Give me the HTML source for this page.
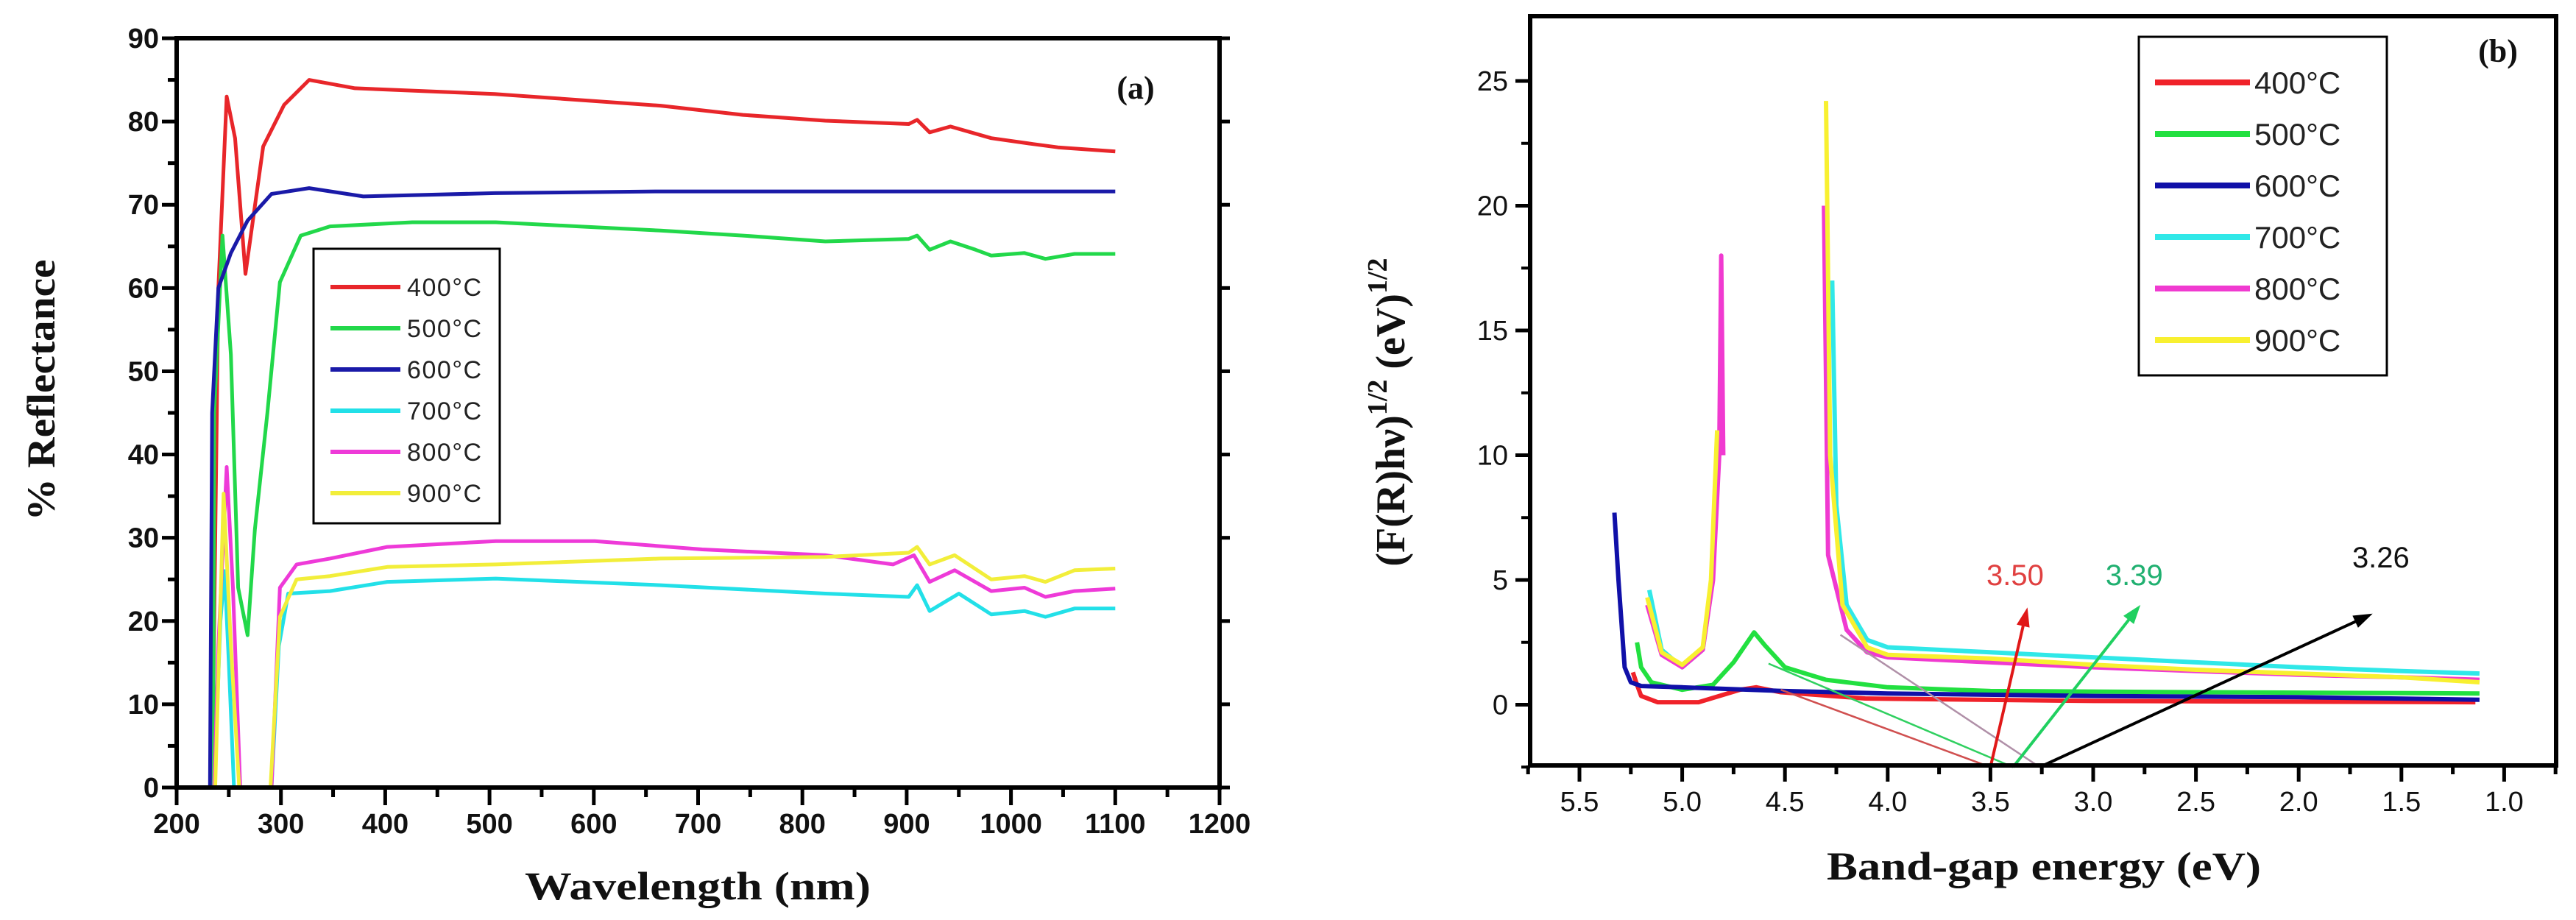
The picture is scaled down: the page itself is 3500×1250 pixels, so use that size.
<!DOCTYPE html>
<html><head><meta charset="utf-8"><style>
html,body{margin:0;padding:0;background:#fff;}
svg{display:block;}
text{font-family:"Liberation Sans",sans-serif;}
.tl{font-size:38px;font-weight:bold;fill:#111;}
.tlb{font-size:38px;fill:#111;}
.ttl{font-family:"Liberation Serif",serif;font-weight:bold;fill:#111;}
</style></head><body>
<svg id="fig" width="3500" height="1250" viewBox="0 0 3500 1250" xmlns="http://www.w3.org/2000/svg">
<g id="ga"></g>
<g id="gb"></g>
</svg>
<script>
// ---------- Chart (a) data ----------
const aLabels = ["400°C","500°C","600°C","700°C","800°C","900°C"];
const aColors = ["#e8262a","#22d84a","#1a1aa8","#22e0e8","#ee3ad8","#f2ee3a"];
const aXTicks = [200,300,400,500,600,700,800,900,1000,1100,1200];
const aYTicks = [0,10,20,30,40,50,60,70,80,90];
const a400 = [[234,0],[240,60],[248,83],[256,78],[266,61.7],[283,77],[303,82],[327,85],[371,84],[505,83.3],[664,81.9],[743,80.8],[822,80.1],[902,79.7],[910,80.2],[922,78.7],[942,79.4],[981,78],[1021,77.3],[1045,76.9],[1100,76.4]];
const a500 = [[235,0],[236,45],[244,66.3],[252,52],[259,24],[268,18.3],[275,31],[287,45],[299,60.7],[319,66.3],[347,67.4],[426,67.9],[506,67.9],[585,67.4],[664,66.9],[743,66.3],[822,65.6],[902,65.9],[910,66.3],[922,64.6],[942,65.6],[966,64.6],[981,63.9],[1013,64.2],[1033,63.5],[1061,64.1],[1100,64.1]];
const a600 = [[232,0],[234,45],[240,60],[252,64.2],[268,68.1],[291,71.3],[327,72],[379,71],[505,71.4],[664,71.6],[1100,71.6]];
const a700 = [[236,0],[242,20],[246,26],[250,15],[255,0],null,[291,0],[298,17],[307,23.3],[347,23.6],[402,24.7],[506,25.1],[664,24.3],[822,23.3],[902,22.9],[910,24.3],[922,21.2],[950,23.3],[981,20.8],[1013,21.2],[1033,20.5],[1061,21.5],[1100,21.5]];
const a800 = [[236,0],[240,17],[248,38.5],[254,24],[261,0],null,[291,0],[299,24],[315,26.8],[347,27.5],[402,28.9],[506,29.6],[601,29.6],[704,28.6],[822,27.9],[887,26.8],[907,27.9],[922,24.7],[946,26.1],[981,23.6],[1013,24],[1033,22.9],[1061,23.6],[1100,23.9]];
const a900 = [[237,0],[245,35.3],[252,17],[260,0],null,[290,0],[299,20.5],[315,25],[347,25.4],[402,26.5],[506,26.8],[664,27.5],[822,27.7],[902,28.2],[910,28.9],[922,26.8],[946,27.9],[981,25],[1013,25.4],[1033,24.7],[1061,26.1],[1100,26.3]];
const aSeries = [a400,a500,a600,a700,a800,a900];

// ---------- Chart (b) data ----------
const bLabels = ["400°C","500°C","600°C","700°C","800°C","900°C"];
const bColors = ["#f0222a","#22e040","#1010a8","#30e8e8","#f03ad0","#f8f030"];
const bXTicks = [5.5,5.0,4.5,4.0,3.5,3.0,2.5,2.0,1.5,1.0];
const bYTicks = [0,5,10,15,20,25];
const b400 = [[5.24,1.3],[5.22,0.8],[5.2,0.35],[5.12,0.1],[4.92,0.1],[4.72,0.6],[4.64,0.7],[4.52,0.5],[4.11,0.25],[3.0,0.15],[1.14,0.1]];
const b500 = [[5.22,2.5],[5.2,1.5],[5.15,0.9],[5.0,0.6],[4.85,0.8],[4.75,1.7],[4.65,2.9],[4.6,2.4],[4.5,1.5],[4.3,1.0],[4.0,0.7],[3.5,0.55],[2.5,0.5],[1.12,0.45]];
const b600 = [[5.33,7.7],[5.31,5],[5.28,1.5],[5.25,0.9],[5.2,0.75],[5.0,0.7],[4.5,0.55],[4.0,0.45],[3.0,0.35],[2.0,0.3],[1.12,0.2]];
const b700 = [[5.16,4.6],[5.1,2.2],[5.0,1.5],[4.9,2.2],[4.86,4.5],[4.84,8],null,[4.27,17],[4.25,8],[4.2,4],[4.1,2.6],[4.0,2.3],[3.5,2.1],[3.0,1.9],[2.5,1.7],[2.0,1.5],[1.5,1.35],[1.12,1.25]];
const b800 = [[5.17,4],[5.1,2],[5.0,1.5],[4.9,2.2],[4.85,5],[4.82,10],[4.81,18],[4.8,10],null,[4.31,20],[4.29,6],[4.2,3],[4.1,2.1],[4.0,1.9],[3.5,1.7],[3.0,1.5],[2.5,1.35],[2.0,1.2],[1.5,1.1],[1.12,1.0]];
const b900 = [[5.17,4.3],[5.1,2.1],[5.0,1.6],[4.9,2.3],[4.86,5],[4.83,11],null,[4.3,24.2],[4.28,10],[4.22,4],[4.1,2.3],[4.0,2.0],[3.5,1.85],[3.0,1.6],[2.5,1.4],[2.0,1.25],[1.5,1.1],[1.12,0.9]];
const bSeries = [b400,b500,b600,b700,b800,b900];
const bTangents = [[[4.52,0.6],[3.50,-2.5]],[[4.58,1.65],[3.39,-2.5]],[[4.23,2.8],[3.26,-2.5]]];
const bTangentColors = ["#d05050","#30d060","#b090a8"];
const bArrows = [[[3.50,-2.5],[3.32,3.9]],[[3.39,-2.5],[2.77,4.0]],[[3.26,-2.5],[1.64,3.65]]];
const bArrowColors = ["#e01818","#20d060","#000000"];
const bGapLabels = ["3.50","3.39","3.26"];
const bGapLabelPos = [[3.38,4.8],[2.80,4.8],[1.60,5.5]];

const NS="http://www.w3.org/2000/svg";
function mk(parent,tag,attrs,txt){const e=document.createElementNS(NS,tag);for(const k in attrs)e.setAttribute(k,attrs[k]);if(txt!==undefined)e.textContent=txt;parent.appendChild(e);return e;}
function pathFrom(pts,X,Y){let d="",pen=false;for(const p of pts){if(!p){pen=false;continue;}d+=(pen?"L":"M")+X(p[0]).toFixed(1)+","+Y(p[1]).toFixed(1);pen=true;}return d;}

// ---------- draw (a) ----------
const ga=document.getElementById('ga');
const aL=240,aR=1657,aT=52,aB=1070;
const ax=v=>aL+(v-200)/1000*(aR-aL);
const ay=v=>aB-(v/90)*(aB-aT);
aSeries.forEach((s,i)=>{
  const p=mk(ga,'path',{d:pathFrom(s,ax,ay),fill:'none',stroke:aColors[i],'stroke-width':5,'stroke-linejoin':'round'});
  
  
});
const aframe=mk(ga,'rect',{x:aL,y:aT,width:aR-aL,height:aB-aT,fill:'none',stroke:'#000','stroke-width':6});


aXTicks.forEach((t,i)=>{
  mk(ga,'line',{x1:ax(t),x2:ax(t),y1:aB,y2:aB+24,stroke:'#000','stroke-width':5});
  if(i<aXTicks.length-1) mk(ga,'line',{x1:ax(t+50),x2:ax(t+50),y1:aB,y2:aB+13,stroke:'#000','stroke-width':5});
  const tx=mk(ga,'text',{x:ax(t),y:aB+62,'text-anchor':'middle',class:'tl'},String(t));
  
  
});
aYTicks.forEach((t,i)=>{
  mk(ga,'line',{x1:aL-20,x2:aL,y1:ay(t),y2:ay(t),stroke:'#000','stroke-width':5});
  mk(ga,'line',{x1:aR,x2:aR+14,y1:ay(t),y2:ay(t),stroke:'#000','stroke-width':5});
  if(i<aYTicks.length-1){mk(ga,'line',{x1:aL-12,x2:aL,y1:ay(t+5),y2:ay(t+5),stroke:'#000','stroke-width':5});}
  const ty=mk(ga,'text',{x:aL-24,y:ay(t)+13,'text-anchor':'end',class:'tl'},String(t));
  
  
});
let t1=mk(ga,'text',{x:948,y:1222,'text-anchor':'middle',class:'ttl','font-size':54,textLength:470,lengthAdjust:'spacingAndGlyphs'},'Wavelength (nm)');

let t2=mk(ga,'text',{x:0,y:0,transform:'translate(74,530) rotate(-90)','text-anchor':'middle',class:'ttl','font-size':54,textLength:355,lengthAdjust:'spacingAndGlyphs'},'% Reflectance');

let t3=mk(ga,'text',{x:1543,y:134,'text-anchor':'middle',class:'ttl','font-size':44},'(a)');

const lga=mk(ga,'g',{});

mk(lga,'rect',{x:426,y:338,width:253,height:373,fill:'#fff',stroke:'#000','stroke-width':3});
aLabels.forEach((l,i)=>{
  const y=390+i*56;
  const g=mk(lga,'g',{});
  
  mk(g,'line',{x1:449,x2:544,y1:y,y2:y,stroke:aColors[i],'stroke-width':6});
  mk(g,'text',{x:553,y:y+12,'font-size':34,fill:'#222',textLength:101,lengthAdjust:'spacing'},l);
});

// ---------- draw (b) ----------
const gb=document.getElementById('gb');
const bL=2079,bR=3473,bT=22,bB=1040;
const bx=v=>2146+(5.5-v)*279.2;
const by=v=>957.5-v*33.9;
bSeries.forEach((s,i)=>{
  const p=mk(gb,'path',{d:pathFrom(s,bx,by),fill:'none',stroke:bColors[i],'stroke-width':6,'stroke-linejoin':'round'});
  
  
});
bTangents.forEach((s,i)=>{
  const p=mk(gb,'path',{d:pathFrom(s,bx,by),stroke:bTangentColors[i],'stroke-width':2.5,fill:'none'});
  
});
bArrows.forEach((s,i)=>{
  const x1=bx(s[0][0]),y1=by(s[0][1]),x2=bx(s[1][0]),y2=by(s[1][1]);
  const ang=Math.atan2(y2-y1,x2-x1);
  const g=mk(gb,'g',{});
  
  mk(g,'line',{x1:x1,y1:y1,x2:x2-Math.cos(ang)*12,y2:y2-Math.sin(ang)*12,stroke:bArrowColors[i],'stroke-width':4});
  const h=26,w=9;
  const bxp=x2-Math.cos(ang)*h,byp=y2-Math.sin(ang)*h;
  mk(g,'polygon',{points:`${x2},${y2} ${bxp+Math.sin(ang)*w},${byp-Math.cos(ang)*w} ${bxp-Math.sin(ang)*w},${byp+Math.cos(ang)*w}`,fill:bArrowColors[i]});
  const t=mk(gb,'text',{x:bx(bGapLabelPos[i][0]),y:by(bGapLabelPos[i][1]),'text-anchor':'middle','font-size':40,fill:i==0?'#e04040':(i==1?'#20b070':'#111')},bGapLabels[i]);
  
});
const bframe=mk(gb,'rect',{x:bL,y:bT,width:bR-bL,height:bB-bT,fill:'none',stroke:'#000','stroke-width':6});

bXTicks.forEach((t,i)=>{
  mk(gb,'line',{x1:bx(t),x2:bx(t),y1:bB,y2:bB+22,stroke:'#000','stroke-width':5});
  mk(gb,'line',{x1:bx(t+0.25),x2:bx(t+0.25),y1:bB,y2:bB+12,stroke:'#000','stroke-width':5});
  const tx=mk(gb,'text',{x:bx(t),y:bB+62,'text-anchor':'middle',class:'tlb'},t.toFixed(1));
  
});
mk(gb,'line',{x1:bx(0.75),x2:bx(0.75),y1:bB,y2:bB+12,stroke:'#000','stroke-width':5});
bYTicks.forEach((t,i)=>{
  mk(gb,'line',{x1:bL-20,x2:bL,y1:by(t),y2:by(t),stroke:'#000','stroke-width':5});
  mk(gb,'line',{x1:bL-12,x2:bL,y1:by(t-2.5),y2:by(t-2.5),stroke:'#000','stroke-width':4});
  const ty=mk(gb,'text',{x:bL-30,y:by(t)+13,'text-anchor':'end',class:'tlb'},String(t));
  
});
let u1=mk(gb,'text',{x:2777,y:1195,'text-anchor':'middle',class:'ttl','font-size':54,textLength:590,lengthAdjust:'spacingAndGlyphs'},'Band-gap energy (eV)');

const yt=mk(gb,'text',{x:0,y:0,transform:'translate(1908,560) rotate(-90)','text-anchor':'middle',class:'ttl','font-size':56});

mk(yt,'tspan',{},'(F(R)hν)');
mk(yt,'tspan',{dy:-24,'font-size':38},'1/2');
mk(yt,'tspan',{dy:24},' (eV)');
mk(yt,'tspan',{dy:-24,'font-size':38},'1/2');
let u3=mk(gb,'text',{x:3394,y:84,'text-anchor':'middle',class:'ttl','font-size':44},'(b)');

const lgb=mk(gb,'g',{});

mk(lgb,'rect',{x:2906,y:50,width:337,height:460,fill:'#fff',stroke:'#000','stroke-width':3});
bLabels.forEach((l,i)=>{
  const y=112+i*70;
  const g=mk(lgb,'g',{});
  
  mk(g,'line',{x1:2928,x2:3057,y1:y,y2:y,stroke:bColors[i],'stroke-width':8});
  mk(g,'text',{x:3063,y:y+15,'font-size':42,fill:'#222'},l);
});
</script>
</body></html>
